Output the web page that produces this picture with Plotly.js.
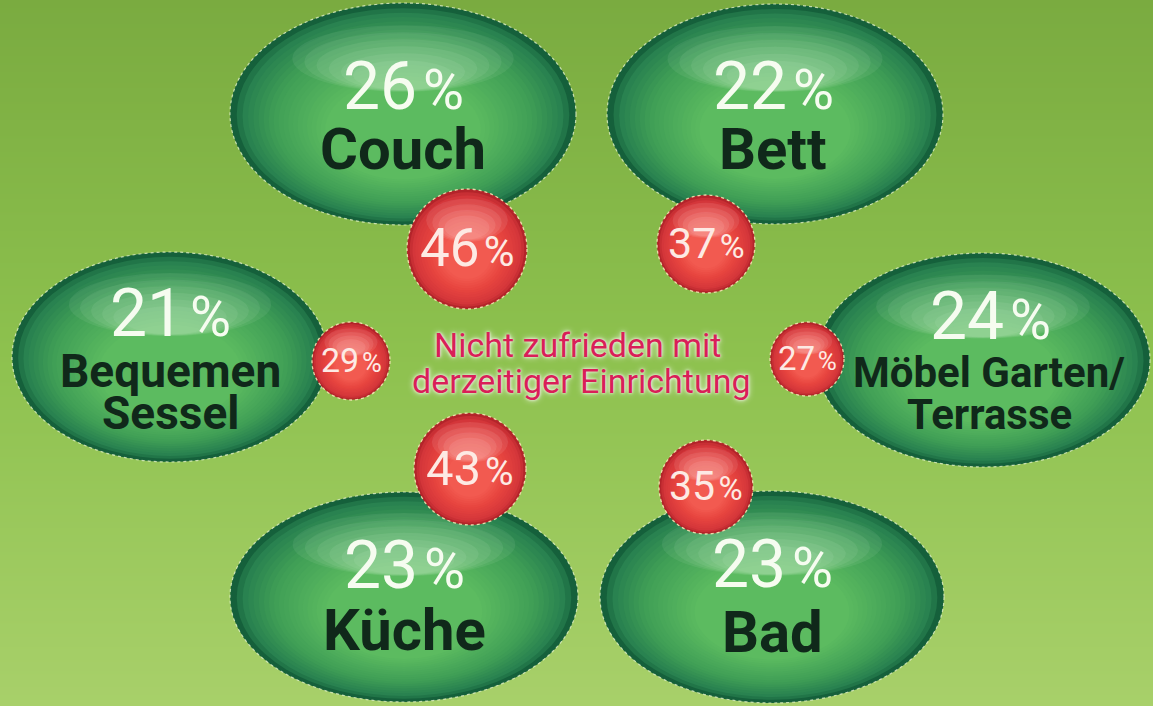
<!DOCTYPE html>
<html><head><meta charset="utf-8">
<script src="https://cdn.plot.ly/plotly-3.0.1.min.js"></script>
<style>html,body{margin:0;padding:0;background:#8cbf4c;overflow:hidden}</style>
</head><body><div id="chart" style="width:1153px;height:706px"></div>
<script>
// ---- data ----
const categories = ['Couch', 'Bett', 'Bequemen<br>Sessel', 'Möbel Garten/<br>Terrasse', 'Küche', 'Bad'];
const satisfiedPct = [26, 22, 21, 24, 23, 23];
const notSatisfiedPct = [46, 37, 29, 27, 43, 35];
const centerLabel = ['Nicht zufrieden mit', 'derzeitiger Einrichtung'];

// ---- layout geometry (pixel space) ----
const ellipseGeom = [[403,114,173,111],[775,114,168,110],[170,357,158,105],[983,360,167,107],[404,597,174,105],[772,597,172,106]];
const numberPos = [[403,86],[773,86],[170,313],[990,316],[404,565],[772,564]];
const labelPos = [[[403,149]],[[773,149]],[[170,371],[170,413]],[[989,372],[989,414]],[[404,630]],[[772,632]]];
const labelSize = [58,58,46,42,58,58];
const bubbleGeom = [[467,249,60],[706,244,49],[351,361,39],[807,359,37],[470,469,56],[706,487,47]];
const centerPos = [[577,345],[581,381]];

// ---- helpers ----
function hex2rgb(h){h=h.replace('#','');return [parseInt(h.substr(0,2),16),parseInt(h.substr(2,2),16),parseInt(h.substr(4,2),16)];}
function stopColor(stops,t){
  for(let i=1;i<stops.length;i++){
    if(t<=stops[i][0]){
      const a=stops[i-1],b=stops[i];const u=(t-a[0])/(b[0]-a[0]||1);
      const ca=hex2rgb(a[1]),cb=hex2rgb(b[1]);
      return 'rgb('+ca.map((v,k)=>Math.round(v+(cb[k]-v)*u)).join(',')+')';
    }
  }
  return stops[stops.length-1][1];
}
function ell(cx,cy,rx,ry,fill,line){
  return {type:'circle',xref:'x',yref:'y',layer:'above',x0:cx-rx,x1:cx+rx,y0:cy-ry,y1:cy+ry,
    fillcolor:fill,line:line||{width:0}};
}

const shapes=[];
const greenStops=[[0,'#15603b'],[0.08,'#27804f'],[0.4,'#3f9e56'],[1,'#5cbb60']];
ellipseGeom.forEach(g=>{
  const [cx,cy,rx,ry]=g; const N=20;
  for(let i=0;i<N;i++){
    const t=i/(N-1); const s=1-0.55*Math.pow(t,0.9);
    shapes.push(ell(cx,cy+0.14*ry*t,rx*s,ry*s,stopColor(greenStops,t),
      i===0?{color:'rgba(225,240,200,0.8)',width:1.2,dash:'dot'}:{width:0}));
  }
  for(let j=0;j<6;j++){
    const s=1-0.11*j;
    shapes.push(ell(cx,cy-0.5*ry+0.03*ry*j,0.64*rx*s,0.30*ry*s,'rgba(235,255,235,0.07)'));
  }
});
const redStops=[[0,'#b3242a'],[0.12,'#d3353a'],[0.6,'#e8453f'],[1,'#f25a50']];
bubbleGeom.forEach(g=>{
  const [cx,cy,r]=g; const N=14;
  for(let i=0;i<N;i++){
    const t=i/(N-1); const s=1-0.6*t;
    shapes.push(ell(cx,cy+0.1*r*t,r*s,r*s,stopColor(redStops,t),
      i===0?{color:'rgba(245,230,180,0.9)',width:1.3,dash:'dot'}:{width:0}));
  }
  for(let j=0;j<4;j++){
    const s=1-0.15*j;
    shapes.push(ell(cx,cy-0.48*r+0.04*r*j,0.68*r*s,0.36*r*s,'rgba(255,225,225,0.1)'));
  }
});

// ---- annotations ----
const ann=[];
const base={xref:'x',yref:'y',showarrow:false,xanchor:'center',yanchor:'middle'};
satisfiedPct.forEach((v,i)=>{
  ann.push(Object.assign({},base,{x:numberPos[i][0],y:numberPos[i][1],
    text:v+'<span style="font-size:56px">\u200A%</span>',
    font:{family:'Roboto',size:66,color:'#f6fcf0'}}));
  categories[i].split('<br>').forEach((line,k)=>{
    ann.push(Object.assign({},base,{x:labelPos[i][k][0],y:labelPos[i][k][1],text:line,
      font:{family:'Roboto',size:labelSize[i],color:'#10281a',weight:700}}));
  });
});
notSatisfiedPct.forEach((v,i)=>{
  const r=bubbleGeom[i][2]; const fs=Math.round(r*0.88);
  ann.push(Object.assign({},base,{x:bubbleGeom[i][0],y:bubbleGeom[i][1]-1,
    text:v+'<span style="font-size:'+Math.round(fs*0.8)+'px">\u200A%</span>',
    font:{family:'Roboto',size:fs,color:'#fdeae4'}}));
});
centerLabel.forEach((line,k)=>{
  ann.push(Object.assign({},base,{x:centerPos[k][0],y:centerPos[k][1],text:line,
    font:{family:'Roboto',size:34,color:'#d91f58',shadow:'0 0 3px #ffffff, 0 0 6px rgba(255,255,255,0.9)'}}));
});

// ---- background gradient trace ----
const bgY=[-60,0,350,706,766];
const bg={type:'heatmap',x:[-60,1213],y:bgY,z:[[0,0],[0,0],[0.5,0.5],[1,1],[1,1]],
  colorscale:[[0,'#7aab40'],[0.5,'#8dc14e'],[1,'#a8d06a']],zmin:0,zmax:1,
  zsmooth:'best',showscale:false,hoverinfo:'skip'};

const layout={width:1153,height:706,margin:{l:0,r:0,t:0,b:0},
  paper_bgcolor:'#8cbf4c',plot_bgcolor:'#8cbf4c',showlegend:false,
  xaxis:{range:[0,1153],visible:false,fixedrange:true},
  yaxis:{range:[706,0],visible:false,fixedrange:true},
  shapes:shapes,annotations:ann,hovermode:false};
Plotly.newPlot('chart',[bg],layout,{staticPlot:true,displayModeBar:false});
</script></body></html>
